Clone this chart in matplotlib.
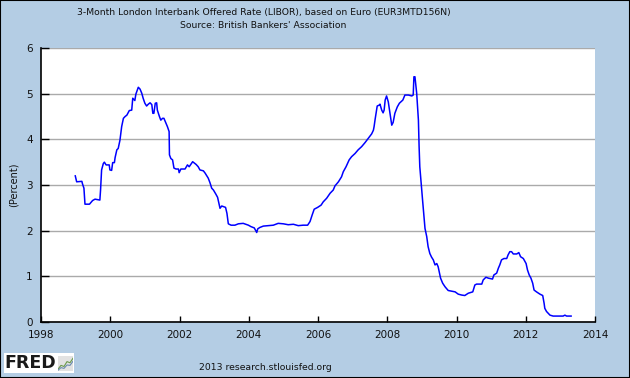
import matplotlib
matplotlib.use("Agg")
import matplotlib.pyplot as plt
from matplotlib.patches import Rectangle

# decimal years and LIBOR values (percent)
years = [1998.99, 1999.03, 1999.18, 1999.20, 1999.24, 1999.27, 1999.40, 1999.49, 1999.56, 1999.70,
         1999.72, 1999.75, 1999.80, 1999.83, 1999.88, 1999.97, 1999.99, 2000.04, 2000.07, 2000.12,
         2000.14, 2000.19, 2000.23, 2000.28, 2000.33, 2000.38, 2000.43, 2000.48, 2000.55, 2000.62,
         2000.65, 2000.71, 2000.74, 2000.81, 2000.86, 2000.91, 2000.95, 2001.00, 2001.05, 2001.10,
         2001.15, 2001.20, 2001.23, 2001.26, 2001.30, 2001.34, 2001.36, 2001.42, 2001.46, 2001.51,
         2001.55, 2001.61, 2001.65, 2001.70, 2001.71, 2001.75, 2001.80, 2001.84, 2001.90, 2001.97,
         2001.99, 2002.04, 2002.16, 2002.23, 2002.28, 2002.38, 2002.48, 2002.54, 2002.59,
         2002.69, 2002.74, 2002.83, 2002.88, 2002.93, 2002.98, 2003.05, 2003.10, 2003.17, 2003.22,
         2003.29, 2003.33, 2003.37, 2003.41, 2003.49, 2003.60, 2003.70, 2003.84, 2003.99, 2004.06,
         2004.16, 2004.23, 2004.26, 2004.32, 2004.42, 2004.56, 2004.71, 2004.85, 2005.00, 2005.14,
         2005.29, 2005.43, 2005.57, 2005.70, 2005.77, 2005.83, 2005.89, 2005.99, 2006.09, 2006.15,
         2006.25, 2006.35, 2006.44, 2006.49, 2006.59, 2006.68, 2006.73, 2006.81, 2006.90, 2006.97,
         2007.07, 2007.16, 2007.26, 2007.36, 2007.45, 2007.55, 2007.60, 2007.62, 2007.65, 2007.71,
         2007.77, 2007.79, 2007.84, 2007.88, 2007.91, 2007.94, 2007.98, 2008.03, 2008.08, 2008.13,
         2008.17, 2008.22, 2008.29, 2008.35, 2008.45, 2008.51, 2008.61, 2008.71, 2008.75, 2008.77,
         2008.80, 2008.85, 2008.90, 2008.92, 2008.94, 2008.99, 2009.02, 2009.06, 2009.09, 2009.14,
         2009.18, 2009.23, 2009.28, 2009.33, 2009.38, 2009.43, 2009.47, 2009.50, 2009.54, 2009.60,
         2009.67, 2009.76, 2009.96, 2010.05, 2010.15, 2010.24, 2010.34, 2010.47, 2010.53, 2010.58,
         2010.73, 2010.77, 2010.85, 2010.92, 2011.04, 2011.08, 2011.16, 2011.21, 2011.25, 2011.30,
         2011.37, 2011.45, 2011.49, 2011.54, 2011.59, 2011.64, 2011.74, 2011.80, 2011.85, 2011.93,
         2012.01, 2012.05, 2012.10, 2012.15, 2012.20, 2012.24, 2012.31, 2012.41, 2012.49, 2012.53,
         2012.55, 2012.60, 2012.65, 2012.70, 2012.79, 2012.94, 2013.08, 2013.13, 2013.18, 2013.31]
values = [3.20, 3.07, 3.08, 3.02, 2.93, 2.58, 2.58, 2.66, 2.69, 2.67,
          2.89, 3.33, 3.47, 3.50, 3.44, 3.44, 3.33, 3.32, 3.49, 3.49,
          3.60, 3.77, 3.80, 3.98, 4.28, 4.46, 4.50, 4.53, 4.63, 4.64,
          4.90, 4.85, 4.99, 5.14, 5.10, 5.01, 4.90, 4.79, 4.73, 4.77,
          4.80, 4.76, 4.57, 4.57, 4.79, 4.80, 4.64, 4.50, 4.42, 4.46,
          4.46, 4.35, 4.28, 4.17, 3.66, 3.58, 3.55, 3.37, 3.35, 3.35,
          3.27, 3.35, 3.35, 3.44, 3.40, 3.51, 3.45, 3.40, 3.33,
          3.31, 3.26, 3.15, 3.05, 2.93, 2.89, 2.80, 2.73, 2.49, 2.54,
          2.52, 2.51, 2.38, 2.15, 2.12, 2.12, 2.15, 2.16, 2.12, 2.09,
          2.06, 1.96, 2.04, 2.07, 2.10, 2.11, 2.12, 2.16, 2.15, 2.13,
          2.14, 2.11, 2.12, 2.12, 2.20, 2.34, 2.47, 2.51, 2.56, 2.63,
          2.71, 2.82, 2.89, 2.98, 3.07, 3.18, 3.29, 3.40, 3.55, 3.62,
          3.69, 3.77, 3.84, 3.93, 4.02, 4.12, 4.20, 4.28, 4.44, 4.73,
          4.75, 4.77, 4.64, 4.58, 4.64, 4.86, 4.95, 4.82, 4.57, 4.31,
          4.37, 4.57, 4.71, 4.79, 4.86, 4.97, 4.97, 4.95, 4.97, 5.37,
          5.37, 5.01, 4.42, 3.84, 3.40, 2.96, 2.67, 2.31, 2.05, 1.87,
          1.65, 1.50, 1.42, 1.36, 1.25, 1.28, 1.21, 1.10, 0.96, 0.85,
          0.77, 0.69, 0.66, 0.61, 0.59, 0.58, 0.63, 0.66, 0.81, 0.83,
          0.83, 0.92, 0.98, 0.96, 0.94, 1.03, 1.07, 1.18, 1.25, 1.36,
          1.39, 1.39, 1.47, 1.54, 1.54, 1.49, 1.49, 1.52, 1.43, 1.39,
          1.28, 1.14, 1.03, 0.96, 0.85, 0.70, 0.66, 0.61, 0.58, 0.41,
          0.30, 0.23, 0.19, 0.15, 0.13, 0.13, 0.13, 0.15, 0.13, 0.13]

x_ticks = [1998, 2000, 2002, 2004, 2006, 2008, 2010, 2012, 2014]
y_ticks = [0, 1, 2, 3, 4, 5, 6]

title_line1 = "3-Month London Interbank Offered Rate (LIBOR), based on Euro (EUR3MTD156N)"
title_line2 = "Source: British Bankers' Association"
y_label = "(Percent)"
footer = "2013 research.stlouisfed.org"

BG = "#b4cde4"
W, H = 630, 378
fig = plt.figure(figsize=(W / 100, H / 100), dpi=100, facecolor=BG)
ax = fig.add_axes([41 / W, 1 - 322 / H, (595 - 41) / W, (322 - 48) / H])
ax.set_facecolor("white")

ax.plot(years, values, color="#0000ff", lw=1.1, zorder=3)

ax.set_xlim(1998, 2014)
ax.set_ylim(0, 6)
ax.set_xticks(x_ticks)
ax.set_yticks(y_ticks)
ax.set_xticklabels([str(t) for t in x_ticks], fontsize=7.5, color="#111111")
ax.set_yticklabels([str(t) for t in y_ticks], fontsize=7.5, color="#111111")
ax.yaxis.grid(True, color="#aaaaaa", lw=1.0, zorder=1)
ax.tick_params(axis="y", direction="in", length=6, width=1.0, color="black", pad=6)
ax.tick_params(axis="x", direction="in", length=4, width=1.0, color="black", pad=6)
for s in ["top", "right"]:
    ax.spines[s].set_visible(False)
for s in ["left", "bottom"]:
    ax.spines[s].set_color("black")
    ax.spines[s].set_linewidth(1.2)

fig.text(14 / W, 1 - 185 / H, y_label, rotation=90, ha="center", va="center",
         fontsize=7, color="#111111")
fig.text(264 / W, 1 - 12 / H, title_line1, ha="center", va="center", fontsize=6.7, color="#111111")
fig.text(263 / W, 1 - 25 / H, title_line2, ha="center", va="center", fontsize=6.7, color="#111111")
fig.text(265 / W, 1 - 367 / H, footer, ha="center", va="center", fontsize=6.7, color="#111111")

# FRED logo box
fig.patches.append(Rectangle((4 / W, 1 - 373 / H), 70 / W, 20 / H, transform=fig.transFigure,
                             facecolor="white", edgecolor="none", zorder=2))
fig.text(4 / W, 1 - 363.5 / H, "FRED", ha="left", va="center", fontsize=12.5,
         fontweight="heavy", color="#1a1a1a", zorder=3)
icon = fig.add_axes([58 / W, 1 - 371 / H, 15 / W, 15 / H])
icon.set_zorder(5)
icon.set_facecolor("#e2e2e2")
icon.plot([0, 1, 2, 3, 4, 5], [0.5, 1.5, 1.2, 2.5, 2.2, 3.4], color="#6a9a4a", lw=0.8)
icon.plot([0, 1, 2, 3, 4, 5], [0.2, 0.9, 0.7, 1.6, 1.5, 2.6], color="#6a8ab0", lw=0.8)
icon.set_xlim(0, 5)
icon.set_ylim(0, 4)
icon.set_xticks([])
icon.set_yticks([])
for s in icon.spines.values():
    s.set_visible(False)

# figure border
fig.patches.append(Rectangle((0, 0), 1, 1, transform=fig.transFigure, facecolor="none",
                             edgecolor="black", lw=1.5, zorder=10))

fig.savefig("out.png", dpi=100, facecolor=BG)
